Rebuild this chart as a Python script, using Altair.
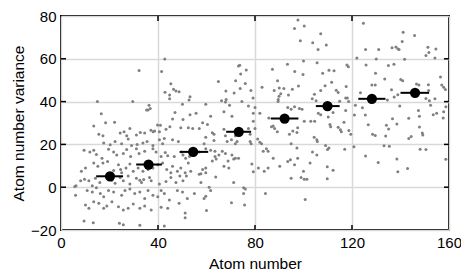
import altair as alt
import pandas as pd

# ---------------- data ----------------
scatter_pts = [
    # x 0-54, y -20..39
    (36.3,38.3),(36.8,36.8),(35.9,36.1),(50.1,38.8),(16.6,34.3),(47.0,34.9),(46.0,31.9),(53.2,33.8),
    (41.0,28.9),(13.5,28.6),(18.4,30.1),(40.6,25.9),(22.1,30.4),(28.4,27.4),(26.0,25.9),(24.4,25.3),
    (27.1,24.1),(15.6,24.8),(17.3,24.1),(31.1,24.4),(32.7,25.6),(34.5,25.3),(38.6,26.3),(43.3,27.1),
    (44.9,28.3),(49.4,27.8),(52.5,27.8),(50.3,31.6),(35.3,36.1),(37.1,26.6),(38.0,25.9),(39.8,29.1),
    (17.6,20.7),(20.3,19.8),(22.3,21.3),(25.0,20.3),(27.7,22.5),(29.1,19.5),(31.4,20.0),(33.8,20.7),
    (35.5,21.3),(37.9,19.5),(40.6,22.2),(42.6,22.8),(46.0,22.2),(48.4,21.3),(41.9,20.3),
    (9.5,17.3),(11.9,16.5),(13.5,17.3),(14.6,15.3),(16.9,13.5),(19.6,17.7),(21.7,16.5),(23.0,15.0),
    (25.7,15.8),(27.1,17.6),(28.7,14.3),(31.1,18.0),(32.2,15.8),(34.5,16.8),(37.9,18.0),(39.2,16.5),
    (41.3,14.3),(43.0,16.2),(44.0,14.7),(46.7,14.3),(49.8,16.5),(50.3,15.0),(51.4,13.5),(53.0,14.3),
    (8.4,7.5),(10.1,9.0),(13.5,11.3),(15.2,9.8),(17.3,11.3),(19.2,12.0),(23.7,10.5),(24.6,8.3),
    (26.8,9.0),(28.4,10.8),(29.8,7.5),(31.8,9.0),(33.8,7.5),(35.9,8.3),(37.9,9.0),(39.9,10.5),
    (41.9,11.3),(43.6,8.3),(45.3,6.7),(46.0,9.8),(48.0,7.5),(49.4,9.0),(51.2,6.7),(52.5,11.3),
    (53.5,7.5),(21.7,7.8),(25.0,6.7),
    (8.1,3.0),(9.7,3.7),(11.5,3.0),(12.9,0.7),(14.2,4.2),(16.0,2.2),(21.0,3.3),(22.3,1.8),
    (24.4,4.5),(25.7,3.0),(27.7,5.2),(28.4,1.5),(31.1,4.2),(32.5,3.3),(33.2,2.2),(34.1,3.6),
    (36.5,4.5),(37.2,3.0),(40.6,1.5),(43.3,2.7),(45.3,4.5),(47.4,2.2),(49.0,5.2),(50.3,3.0),
    (51.7,5.2),(6.2,0.7),(5.7,0.3),
    (6.0,-3.8),(10.8,-1.5),(12.9,-2.3),(14.6,-0.3),(16.2,-3.0),(17.6,-4.5),(19.6,-1.5),(21.7,-2.3),
    (25.0,-3.8),(26.4,-1.5),(28.4,-0.8),(30.4,-3.0),(32.5,-2.3),(34.5,-5.3),(35.9,-1.5),(37.9,-3.8),
    (39.9,-4.5),(41.3,-1.5),(42.6,-3.0),(44.7,-6.0),(48.0,-1.5),(50.1,-2.3),(52.1,-5.3),
    (10.1,-8.3),(11.5,-9.8),(13.5,-6.8),(15.6,-7.5),(17.6,-9.8),(18.9,-8.8),(21.0,-6.8),(23.7,-9.1),
    (25.7,-10.6),(27.7,-9.8),(29.8,-7.9),(32.5,-9.8),(34.5,-8.8),(37.2,-10.6),(41.3,-9.4),(44.0,-9.8),
    (48.7,-7.5),(51.2,-12.1),
    (9.5,-15.8),(13.3,-16.6),(24.1,-16.9),(25.7,-17.5),(32.5,-17.8),(42.6,-18.1),(51.2,-14.3),
    # x 54-107, y -20..39
    (59.7,38.8),(69.5,38.3),(77.3,37.9),(80.0,37.3),(55.7,34.6),(61.7,33.1),(67.2,35.3),(70.5,33.1),
    (79.3,34.6),(82.0,34.6),(85.7,32.3),(54.3,27.4),(58.4,30.1),(60.4,29.3),(57.0,27.4),(62.4,25.5),
    (63.1,24.8),(67.2,27.1),(67.8,24.1),(71.9,24.1),(77.3,27.4),(78.0,24.8),(79.3,30.8),(80.0,27.4),
    (87.5,28.6),(88.1,27.4),(89.2,25.9),(94.2,24.8),(95.6,26.3),(97.3,25.6),(97.6,27.8),(94.9,36.4),
    (93.5,37.3),(96.3,37.6),(98.3,36.8),(99.4,36.4),(106.1,34.6),(107.1,33.8),(100.3,30.8),(103.0,30.8),
    (104.6,30.8),(86.8,28.3),
    (59.7,23.3),(63.1,21.8),(59.0,20.3),(68.5,21.3),(70.3,22.2),(71.9,20.3),(72.6,21.3),(78.0,21.3),
    (78.4,20.3),(81.1,22.5),(82.0,21.0),(82.7,20.3),(94.9,20.3),(104.4,23.3),(105.5,22.2),(105.7,21.3),
    (97.3,18.3),
    (57.0,16.5),(59.7,18.0),(61.7,17.3),(63.5,16.8),(65.1,15.0),(66.5,16.8),(63.5,14.3),(64.0,13.2),
    (62.4,12.3),(67.8,15.8),(70.5,15.0),(71.2,13.2),(71.9,13.5),(73.2,13.5),(68.9,12.3),(83.4,16.8),
    (84.7,18.0),(85.4,16.8),(87.5,13.5),(90.2,9.8),(93.5,12.0),(94.6,12.8),(96.3,10.5),(97.6,13.5),
    (102.7,11.3),(103.7,16.5),(105.5,15.0),
    (78.7,10.8),(79.3,7.2),(81.4,9.0),(83.8,7.5),(85.4,9.0),(67.2,9.8),(69.2,9.0),(59.7,9.0),
    (58.4,8.3),(57.0,6.0),(57.7,6.3),(63.8,4.8),(59.7,6.7),(100.0,7.5),(99.0,4.5),(100.3,3.7),
    (101.4,3.7),(94.9,4.2),(57.7,2.2),(71.2,2.2),
    (55.0,-3.0),(61.1,0.0),(61.7,-1.5),(59.7,-4.2),(59.0,-5.3),(75.3,-0.3),(76.0,-0.8),(75.3,-3.0),
    (84.3,-3.0),(70.3,-7.3),(75.7,-8.3),(60.0,-10.9),(100.7,-5.7),
    # x 107-160, y -20..39
    (121.4,38.3),(124.3,37.1),(139.7,37.9),(147.4,35.8),(152.4,38.3),(158.7,37.6),(157.8,35.3),(157.6,32.3),
    (153.5,33.8),(154.9,34.6),(147.8,33.1),(143.4,32.2),(136.7,32.0),(138.5,29.5),(134.2,28.9),(135.1,27.2),
    (126.7,29.2),(125.5,33.7),(121.0,33.7),(117.4,35.8),(112.2,34.9),(110.2,32.8),(110.9,29.3),(111.2,28.3),
    (114.3,28.0),(115.2,26.8),(115.6,25.9),(116.7,30.4),(118.7,26.5),(119.5,24.7),(128.5,24.8),(129.6,24.2),
    (133.9,23.9),(143.4,22.8),(144.4,23.7),(147.8,28.1),(149.0,25.3),(149.2,24.4),(109.1,19.5),(109.9,17.6),
    (110.5,18.3),(117.0,17.7),(120.8,18.9),(133.2,19.4),(135.4,19.1),(148.1,17.7),(150.5,17.6),(125.6,14.6),
    (130.8,11.6),(138.5,13.2),(158.7,13.1),(109.8,9.6),(112.2,7.9),(138.9,7.2),(142.9,8.7),(109.8,3.9),
    # x 0-54, y 39-80
    (42.8,59.9),(32.2,54.5),(41.5,54.1),(45.3,48.3),(42.9,44.4),(46.4,45.8),(47.4,44.9),(48.7,44.6),
    (44.8,43.1),(44.8,41.3),(15.0,40.1),(29.6,40.1),(53.2,42.3),(52.8,40.8),
    # x 54-107, y 39-80
    (97.7,78.1),(96.3,74.2),(100.3,75.3),(107.1,71.7),(98.7,68.4),(103.8,67.5),(106.0,64.4),(73.2,56.6),
    (73.7,57.0),(76.4,54.8),(74.1,52.9),(64.9,49.4),(72.0,49.8),(76.0,48.5),(73.9,46.1),(68.0,44.9),
    (71.4,44.0),(78.3,45.2),(79.2,41.7),(66.2,40.4),(67.8,39.8),(68.1,41.0),(74.6,40.1),(82.9,46.7),
    (87.2,55.1),(93.4,57.5),(100.0,59.0),(105.6,58.1),(96.4,54.1),(99.8,52.7),(89.3,49.7),(87.9,45.2),
    (90.0,46.4),(91.9,46.1),(90.6,43.7),(89.9,42.5),(89.6,41.0),(89.5,40.1),(93.8,43.1),(95.4,45.8),
    (97.9,47.3),(103.6,41.3),(104.5,43.4),(105.2,40.4),(107.1,45.2),
    # x 107-160, y 39-80
    (124.7,76.6),(141.1,72.4),(145.8,70.9),(140.7,68.1),(109.4,66.4),(125.6,64.3),(131.0,64.3),(136.5,65.2),
    (138.1,65.5),(138.9,64.7),(139.4,64.3),(151.3,65.4),(154.6,64.6),(151.7,62.9),(150.5,61.6),(154.2,60.4),
    (122.0,60.4),(130.0,59.9),(141.7,59.8),(117.9,57.1),(118.5,56.3),(125.8,57.1),(135.0,56.9),(137.3,57.4),
    (110.5,54.7),(112.6,54.4),(107.9,53.2),(129.7,53.3),(133.5,50.6),(140.1,50.3),(140.9,49.7),(111.6,49.0),
    (108.9,47.4),(117.6,47.0),(128.2,47.7),(129.6,47.7),(146.6,48.2),(147.6,47.7),(151.5,47.9),(156.5,51.5),
    (157.0,47.7),(157.8,46.7),(158.5,45.6),(113.5,45.3),(114.3,44.3),(123.5,44.1),(136.3,45.5),(138.9,43.2),
    (137.4,42.2),(117.4,41.7),(118.1,41.7),(114.9,40.2),(151.6,45.2),(150.5,41.4),(151.9,40.4),(154.2,41.3),
    (118.6,40.1),(134.6,40.8),
]
scatter_x = [p[0] for p in scatter_pts]
scatter_y = [p[1] for p in scatter_pts]

bin_x = [20.2, 36.1, 54.5, 73.3, 92.2, 109.9, 128.2, 146.0]
bin_y = [5.1, 10.6, 16.5, 25.9, 32.1, 37.9, 41.3, 44.1]
bin_lo = [14.5, 31.0, 48.9, 68.1, 86.5, 105.1, 122.6, 140.0]
bin_hi = [25.6, 41.6, 60.7, 78.4, 97.9, 114.9, 133.8, 151.8]

x_ticks = [0, 40, 80, 120, 160]
y_ticks = [-20, 0, 20, 40, 60, 80]
x_inner_ticks = [40, 80, 120]
y_inner_ticks = [0, 20, 40, 60]

# ---------------- chart ----------------
W, H = 388, 214
FONT = "Liberation Sans"
TICK_LEN = 5

scatter = pd.DataFrame({"x": scatter_x, "y": scatter_y})
bins = pd.DataFrame({"x": bin_x, "y": bin_y, "lo": bin_lo, "hi": bin_hi})
xt = pd.DataFrame({"x": x_inner_ticks})
yt = pd.DataFrame({"y": y_inner_ticks})

xs = alt.Scale(domain=[0, 160], nice=False, zero=False)
ys = alt.Scale(domain=[-20, 80], nice=False, zero=False)

common_axis = dict(
    grid=True, ticks=False, tickSize=0, domain=False,
    labelFontSize=15, titleFontSize=15.5, labelFont=FONT, titleFont=FONT,
    labelColor="black", titleColor="black", titleFontWeight="normal",
    gridColor="#d9d9d9", gridWidth=1.5, labelFlush=False, labelOverlap=False,
)
xaxis = alt.Axis(values=x_ticks, title="Atom number", labelPadding=5, titlePadding=6, **common_axis)
yaxis = alt.Axis(values=y_ticks, title="Atom number variance", labelPadding=5, titlePadding=4, **common_axis)

X = lambda f: alt.X(f, scale=xs, axis=xaxis)
Y = lambda f: alt.Y(f, scale=ys, axis=yaxis)

pts = alt.Chart(scatter).mark_circle(size=9, color="#808080", opacity=1).encode(
    x=X("x:Q"), y=Y("y:Q"))

err = alt.Chart(bins).mark_rule(color="black", strokeWidth=2).encode(
    x=X("lo:Q"), x2="hi:Q", y=Y("y:Q"))

means = alt.Chart(bins).mark_circle(size=105, color="black", opacity=1).encode(
    x=X("x:Q"), y=Y("y:Q"))

tick_style = dict(color="black", strokeWidth=1.5)
xb = alt.Chart(xt).mark_rule(**tick_style).encode(
    x=X("x:Q"), y=alt.value(H), y2=alt.value(H - TICK_LEN))
xtop = alt.Chart(xt).mark_rule(**tick_style).encode(
    x=X("x:Q"), y=alt.value(0), y2=alt.value(TICK_LEN))
yl = alt.Chart(yt).mark_rule(**tick_style).encode(
    y=Y("y:Q"), x=alt.value(0), x2=alt.value(TICK_LEN))
yr = alt.Chart(yt).mark_rule(**tick_style).encode(
    y=Y("y:Q"), x=alt.value(W), x2=alt.value(W - TICK_LEN))

chart = alt.layer(pts, err, means, xb, xtop, yl, yr).properties(
    width=W, height=H,
    autosize=alt.AutoSizeParams(type="none"),
    padding={"left": 53, "top": 8, "right": 12, "bottom": 41},
    background="white",
).configure_view(stroke="black", strokeWidth=2)

chart.save("out.html", embed_options={"renderer": "svg", "actions": False})
